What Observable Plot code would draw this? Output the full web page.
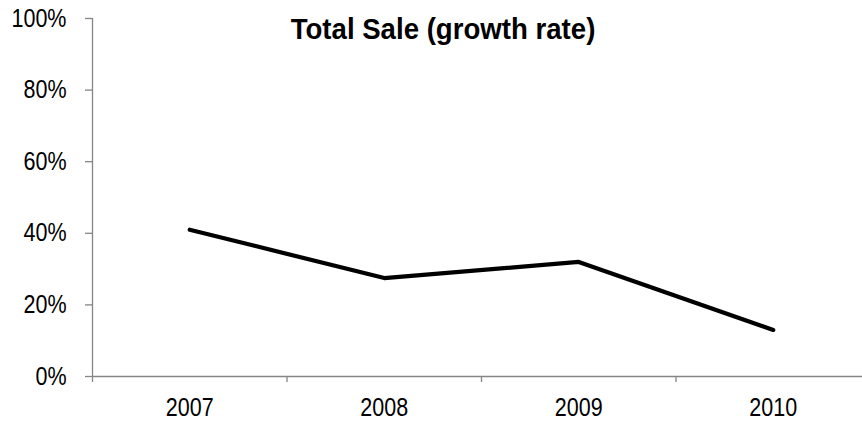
<!DOCTYPE html>
<html><head><meta charset="utf-8">
<script src="https://cdn.jsdelivr.net/npm/d3@7"></script>
<script src="https://cdn.jsdelivr.net/npm/@observablehq/plot@0.6"></script>
<style>
body{margin:0;background:#fff;}
#wrap{position:relative;width:862px;height:426px;overflow:hidden;}
#title{position:absolute;left:12px;top:13px;width:862px;text-align:center;font-family:'Liberation Sans',Arial,sans-serif;font-weight:bold;font-size:30px;line-height:32px;color:#000;transform:scaleX(0.92);transform-origin:431px 0;}
</style>
</head><body>
<div id="wrap"><div id="title"></div></div>
<script>
const years = ["2007", "2008", "2009", "2010"];
const growth = [0.41, 0.275, 0.32, 0.13];
const yTicks = [0, 0.2, 0.4, 0.6, 0.8, 1];
const titleText = "Total Sale (growth rate)";

const data = years.map((year, i) => ({year, i, growth: growth[i]}));
const font = "'Liberation Sans',Arial,sans-serif";
const grey = "#868686";

document.getElementById("title").textContent = titleText;

const chart = Plot.plot({
  width: 862, height: 426,
  marginLeft: 92, marginRight: 0, marginTop: 18, marginBottom: 50,
  style: {fontFamily: font, fontSize: "25px", color: "#000", background: "#fff", overflow: "visible"},
  x: {type: "linear", domain: [0, years.length], range: [92, 870]},
  y: {domain: [0, 1], range: [376, 18]},
  marks: [
    Plot.axisY({ticks: yTicks, tickFormat: d => Math.round(d * 100) + "%", tickSize: 7, tickPadding: 19, stroke: grey, strokeWidth: 1.3, label: null}),
    Plot.axisX({ticks: d3.range(years.length + 1), text: null, tickSize: 6, stroke: grey, strokeWidth: 1.3, label: null}),
    Plot.axisX({ticks: years.map((_, i) => i + 0.5), tickFormat: d => years[Math.floor(d)], tickSize: 0, tickPadding: 22, label: null}),
    Plot.ruleY([0], {stroke: grey, strokeWidth: 1.3}),
    Plot.ruleX([0], {stroke: grey, strokeWidth: 1.3}),
    Plot.line(data, {x: d => d.i + 0.5, y: "growth", stroke: "#000", strokeWidth: 4.2})
  ]
});
document.getElementById("wrap").appendChild(chart);
// condense tick label glyphs to mimic the narrow font of the original
chart.querySelectorAll("text").forEach(t => {
  const L = t.getComputedTextLength();
  if (L > 0) {
    t.setAttribute("textLength", (L * 0.86).toFixed(2));
    t.setAttribute("lengthAdjust", "spacingAndGlyphs");
  }
});
</script>
</body></html>
